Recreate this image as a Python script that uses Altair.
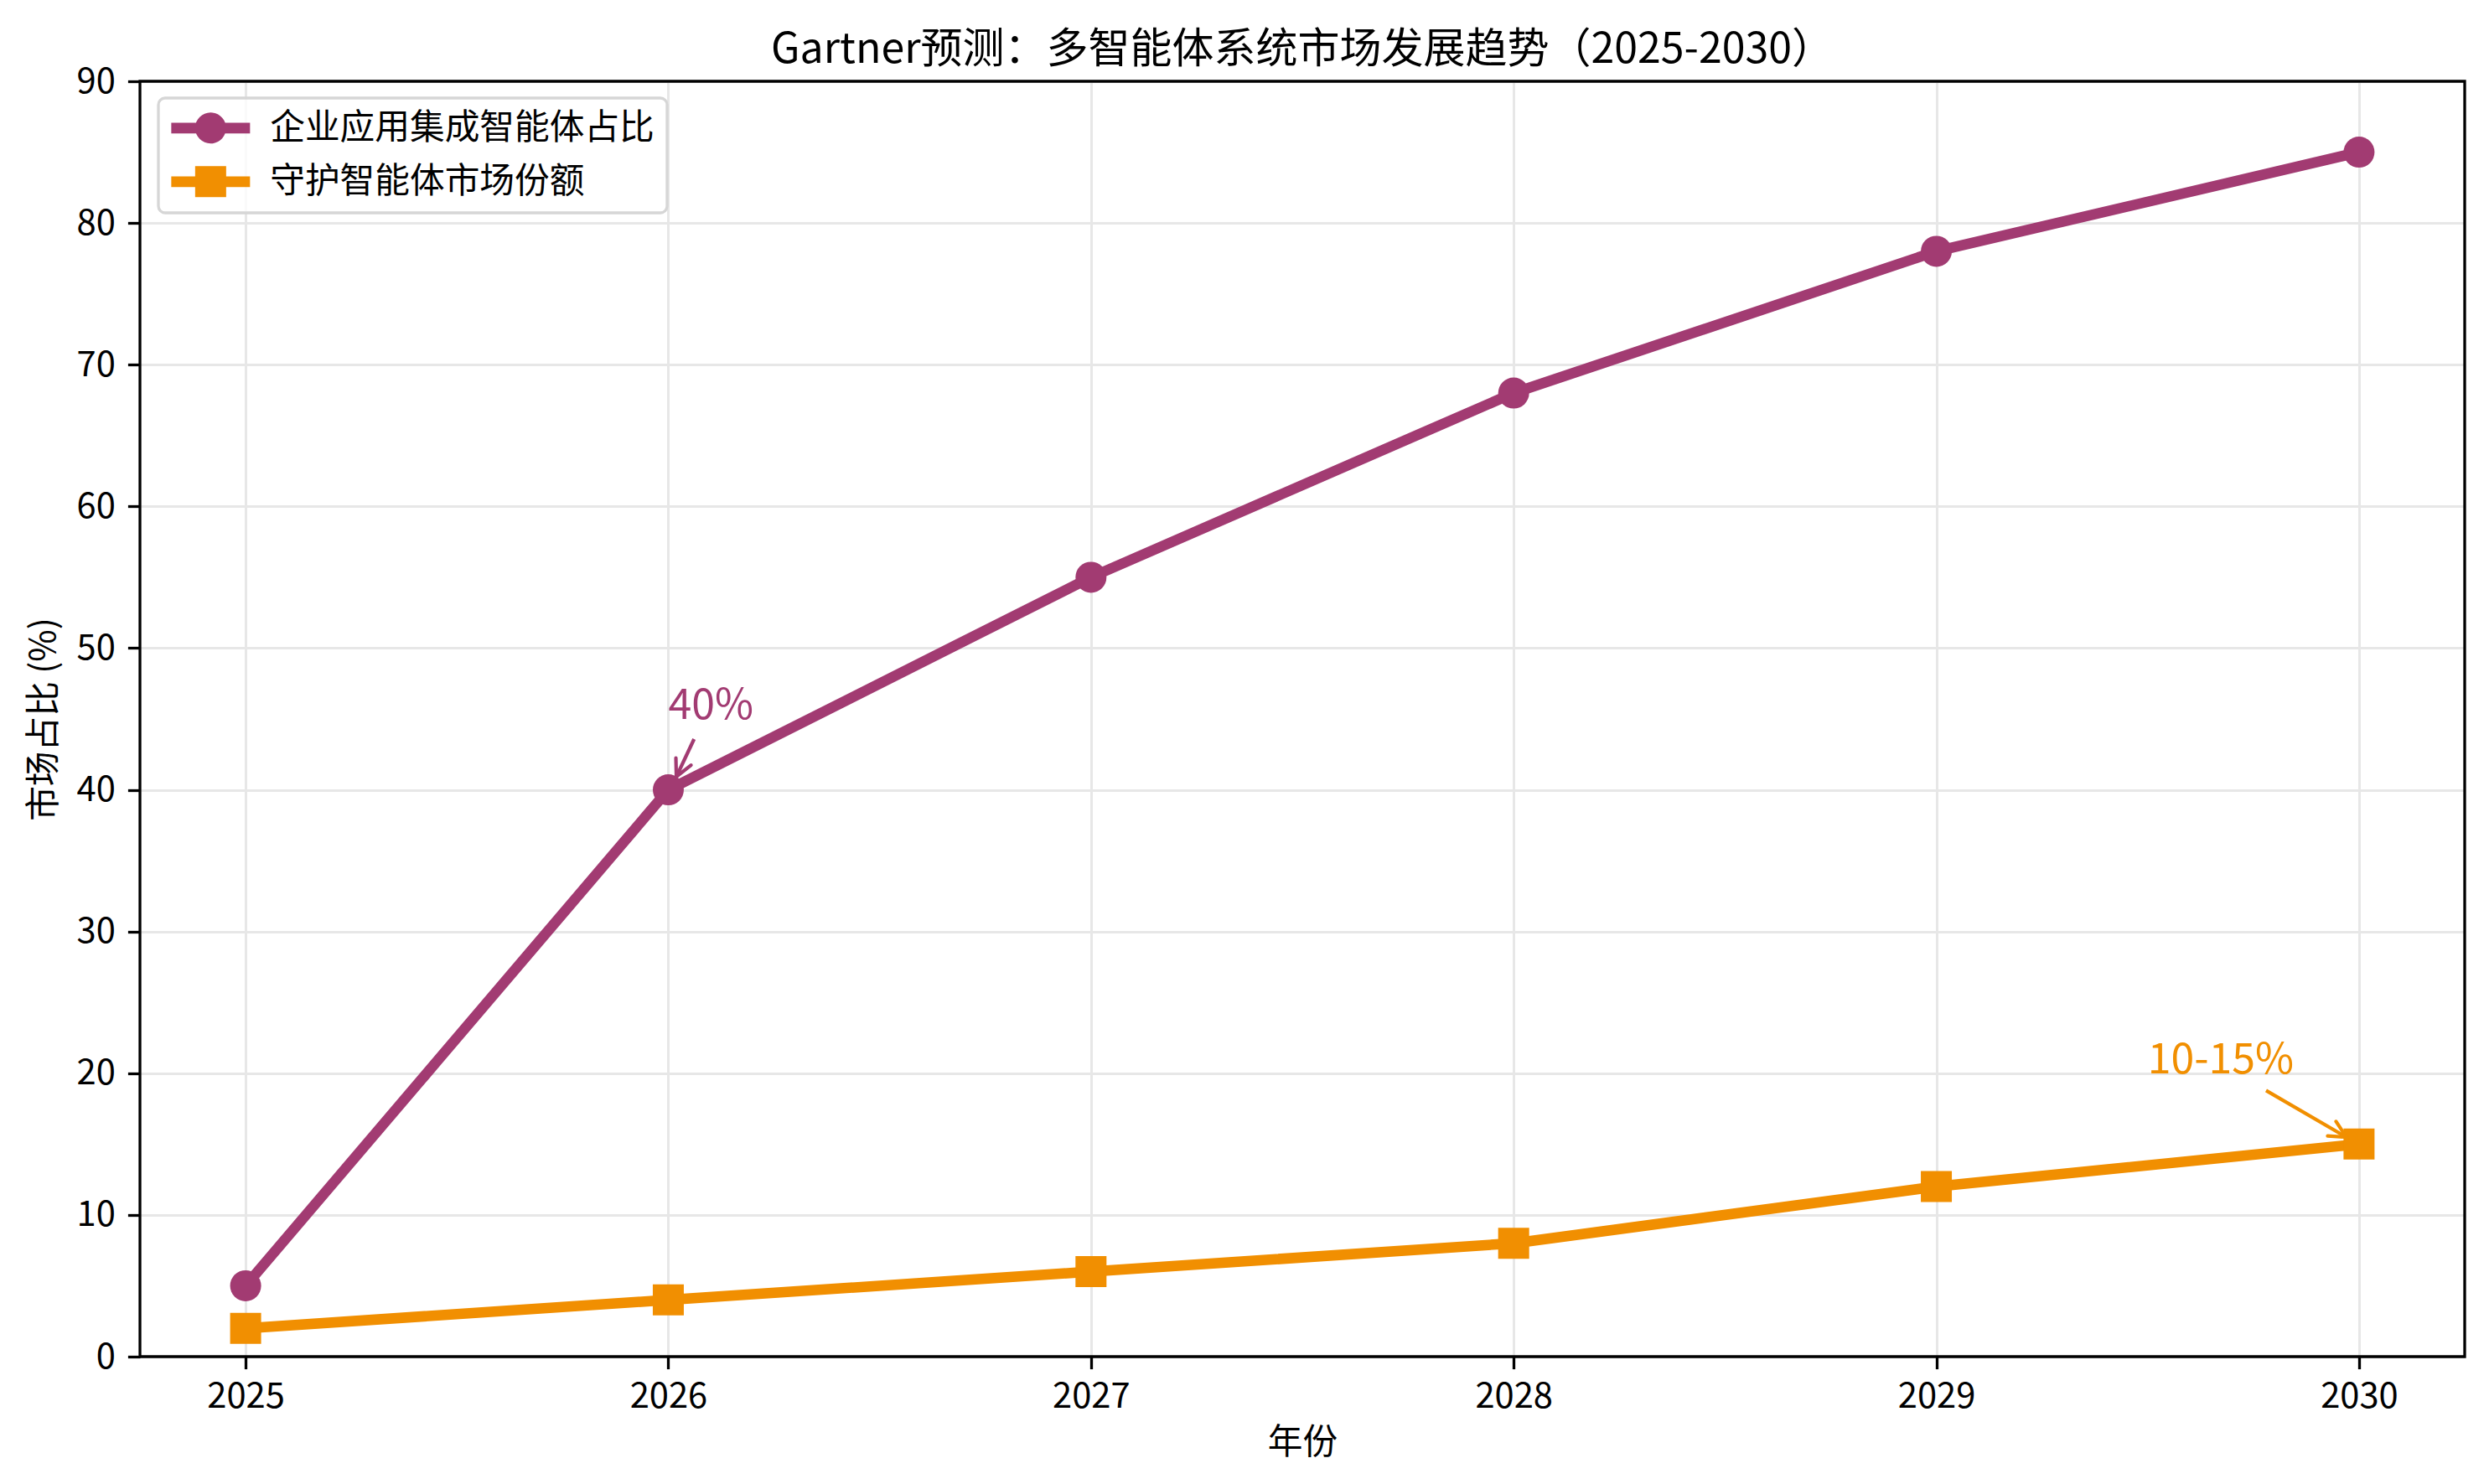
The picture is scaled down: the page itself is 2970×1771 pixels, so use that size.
import math
import altair as alt
import pandas as pd

# ---------------- data ----------------
years = [2025, 2026, 2027, 2028, 2029, 2030]
enterprise_share = [5, 40, 55, 68, 78, 85]
guardian_share = [2, 4, 6, 8, 12, 15]
series_names = ["企业应用集成智能体占比", "守护智能体市场份额"]
series_colors = ["#A23B72", "#F18F01"]
series_shapes = ["circle", "square"]

x_ticks = [2025, 2026, 2027, 2028, 2029, 2030]
y_ticks = [0, 10, 20, 30, 40, 50, 60, 70, 80, 90]

ann_text = ["40%", "10-15%"]
ann_text_x = [2026.0, 2029.5]
ann_text_y = [45, 20]
ann_arrow_x1 = [2026.061, 2029.78]
ann_arrow_y1 = [43.58, 18.78]
ann_arrow_x2 = [2026.019, 2029.97]
ann_arrow_y2 = [40.92, 15.49]
ann_color = ["#A23B72", "#F18F01"]

title_text = "Gartner预测：多智能体系统市场发展趋势（2025-2030）"
x_title = "年份"
y_title = "市场占比 (%)"

# ---------------- layout ----------------
W, H = 2774, 1522
X_DOM = [2024.75, 2030.25]
Y_DOM = [0, 90]
FONT = "Noto Sans CJK SC"

rows = []
for name, vals in zip(series_names, [enterprise_share, guardian_share]):
    for yr, v in zip(years, vals):
        rows.append({"year": yr, "value": v, "series": name})
df = pd.DataFrame(rows)

ann = pd.DataFrame({
    "text": ann_text, "tx": ann_text_x, "ty": ann_text_y,
    "x1": ann_arrow_x1, "y1": ann_arrow_y1, "x2": ann_arrow_x2, "y2": ann_arrow_y2,
    "color": ann_color,
})
px_x = W / (X_DOM[1] - X_DOM[0])
px_y = H / (Y_DOM[1] - Y_DOM[0])
angles = []
for a, b, c, d in zip(ann_arrow_x1, ann_arrow_y1, ann_arrow_x2, ann_arrow_y2):
    dx = (c - a) * px_x
    dy = -(d - b) * px_y
    angles.append(math.degrees(math.atan2(dx, -dy)) % 360)
ann["angle"] = angles

xs = alt.Scale(domain=X_DOM, nice=False, zero=False)
ys = alt.Scale(domain=Y_DOM, nice=False, zero=False)
cs = alt.Scale(domain=series_names, range=series_colors)

x_axis = alt.Axis(values=x_ticks, format="d", title=x_title, grid=True,
                  labelBaseline="alphabetic", labelPadding=46, titleFontSize=41.7,
                  titleFontWeight="normal", titleBaseline="alphabetic",
                  titleX=W / 2, titleY=115, titleAlign="center")
y_axis = alt.Axis(values=y_ticks, title=y_title, grid=True, labelPadding=15,
                  titleFontSize=41.7, titleFontWeight="normal",
                  titleBaseline="alphabetic", titleAngle=270,
                  titleX=-102, titleY=H / 2, titleAlign="center")

base = alt.Chart(df)

layers = []
first = True
for name, col, shp in zip(series_names, series_colors, series_shapes):
    sub = base.transform_filter(alt.datum.series == name)
    if first:
        enc_x = alt.X("year:Q", scale=xs, axis=x_axis)
        enc_y = alt.Y("value:Q", scale=ys, axis=y_axis)
        first = False
    else:
        enc_x = alt.X("year:Q", scale=xs)
        enc_y = alt.Y("value:Q", scale=ys)
    layers.append(sub.mark_line(strokeWidth=12.5, strokeJoin="round", color=col)
                  .encode(x=enc_x, y=enc_y))
    layers.append(sub.mark_point(filled=True, opacity=1, size=1369, shape=shp, color=col)
                  .encode(x=alt.X("year:Q", scale=xs), y=alt.Y("value:Q", scale=ys)))

# legend symbols: line segment + marker
path_circle = ("M-2.54,-0.34 H2.54 V0.34 H-2.54 Z "
               "M-1,0 A1,1 0 1,1 1,0 A1,1 0 1,1 -1,0 Z")
path_square = ("M-2.54,-0.34 H2.54 V0.34 H-2.54 Z "
               "M-1,-1 H1 V1 H-1 Z")


def make_legend():
    return alt.Legend(
        title=None, orient="none", legendX=22, legendY=20,
        padding=15, rowPadding=21, labelFontSize=41.7, labelFont=FONT,
        labelLimit=2000, labelOffset=50, symbolOffset=26.5, symbolSize=1369,
        symbolOpacity=1, symbolStrokeWidth=0, strokeColor="#d6d6d6",
        fillColor="rgba(255,255,255,0.8)", cornerRadius=8)


legend_layer = base.mark_point(filled=True, opacity=0, size=1369).encode(
    x=alt.X("year:Q", scale=xs),
    y=alt.Y("value:Q", scale=ys),
    color=alt.Color("series:N", scale=cs, legend=make_legend()),
    shape=alt.Shape("series:N", scale=alt.Scale(domain=series_names,
                                                  range=[path_circle, path_square]),
                    legend=make_legend()),
)

arrows = alt.Chart(ann).mark_rule(strokeWidth=4.2).encode(
    x=alt.X("x1:Q", scale=xs), y=alt.Y("y1:Q", scale=ys),
    x2="x2:Q", y2="y2:Q",
    color=alt.Color("color:N", scale=None),
)
heads = alt.Chart(ann).mark_point(
    shape="M-0.5,1 L0,0 L0.5,1", size=1600, filled=False, strokeWidth=4.2,
    opacity=1, strokeCap="round", strokeJoin="miter",
).encode(
    x=alt.X("x2:Q", scale=xs), y=alt.Y("y2:Q", scale=ys),
    angle=alt.Angle("angle:Q", scale=None),
    color=alt.Color("color:N", scale=None),
)
labels = alt.Chart(ann).mark_text(
    align="left", baseline="alphabetic", fontSize=50, font=FONT,
).encode(
    x=alt.X("tx:Q", scale=xs), y=alt.Y("ty:Q", scale=ys),
    text="text:N",
    color=alt.Color("color:N", scale=None),
)
title_layer = alt.Chart(pd.DataFrame({"t": [title_text]})).mark_text(
    align="center", baseline="alphabetic", fontSize=50, font=FONT, color="black",
).encode(x=alt.value(W / 2), y=alt.value(-22), text="t:N")

# axes frame drawn on top of the grid (like matplotlib spines)
frame = alt.Chart(pd.DataFrame({"f": [0]})).mark_rect(
    filled=False, stroke="black", strokeWidth=3.3, fillOpacity=0,
).encode(x=alt.value(0), x2=alt.value(W), y=alt.value(0), y2=alt.value(H))

chart = alt.layer(*layers, arrows, heads, labels, title_layer, frame, legend_layer).properties(
    width=W, height=H,
    padding={"left": 159, "top": 89, "right": 21, "bottom": 144},
    autosize=alt.AutoSizeParams(type="none"),
).configure(font=FONT).configure_view(
    stroke=None
).configure_axis(
    domain=False, tickColor="black", tickWidth=3.3, tickSize=14.6,
    labelFontSize=41.7, labelColor="black", labelFont=FONT, titleFont=FONT,
    titleColor="black", gridColor="#e7e7e7", gridWidth=3,
).configure_legend(strokeWidth=3.3)

chart.save("out.html", embed_options={"renderer": "svg", "actions": False})
